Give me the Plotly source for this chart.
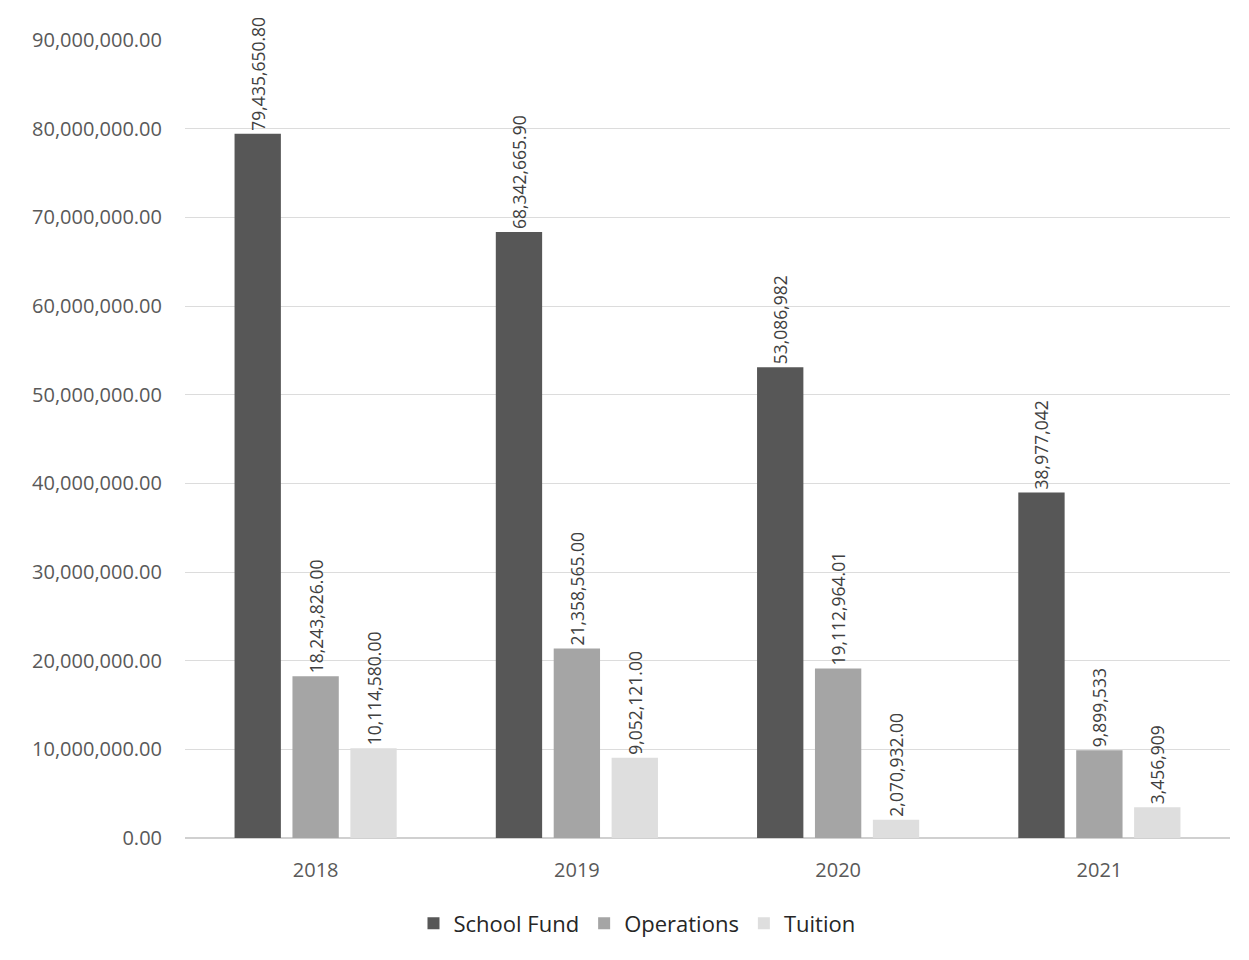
import plotly.graph_objects as go

# Fiscal years on the category axis
years = ["2018", "2019", "2020", "2021"]

# Amounts per funding source
school_fund = [79435650.80, 68342665.90, 53086982, 38977042]
operations = [18243826.00, 21358565.00, 19112964.01, 9899533]
tuition = [10114580.00, 9052121.00, 2070932.00, 3456909]

# Value labels as printed above the bars
school_fund_labels = ["79,435,650.80", "68,342,665.90", "53,086,982", "38,977,042"]
operations_labels = ["18,243,826.00", "21,358,565.00", "19,112,964.01", "9,899,533"]
tuition_labels = ["10,114,580.00", "9,052,121.00", "2,070,932.00", "3,456,909"]

y_ticks = [0, 10e6, 20e6, 30e6, 40e6, 50e6, 60e6, 70e6, 80e6, 90e6]

FONT = "Open Sans, Liberation Sans, sans-serif"
series = [
    ("School Fund", school_fund, school_fund_labels, "#575757"),
    ("Operations", operations, operations_labels, "#a5a5a5"),
    ("Tuition", tuition, tuition_labels, "#dedede"),
]

fig = go.Figure()
for name, vals, labels, color in series:
    fig.add_trace(go.Bar(
        name=name,
        x=years,
        y=vals,
        text=labels,
        texttemplate="%{text}",
        textposition="outside",
        textangle=-90,
        constraintext="none",
        cliponaxis=False,
        textfont=dict(family=FONT, size=17.5, color="#404040"),
        marker=dict(color=color, line=dict(width=0)),
    ))

fig.update_layout(
    width=1249,
    height=960,
    paper_bgcolor="white",
    plot_bgcolor="white",
    barmode="group",
    bargap=0.335,
    bargroupgap=0.2,
    margin=dict(l=185, r=19, t=40, b=122),
    font=dict(family=FONT, size=20, color="#595959"),
    showlegend=True,
    legend=dict(
        orientation="h",
        xref="container",
        yref="container",
        x=0.51,
        xanchor="center",
        y=0.038,
        yanchor="middle",
        font=dict(family=FONT, size=22, color="#262626"),
        itemwidth=30,
        traceorder="normal",
    ),
)

fig.update_yaxes(
    range=[0, 90e6],
    tickvals=y_ticks,
    tickformat=",.2f",
    showgrid=True,
    gridcolor="#dcdcdc",
    gridwidth=1,
    zeroline=True,
    zerolinecolor="#d0d0d0",
    showline=False,
    ticklabelstandoff=22,
    tickfont=dict(family=FONT, size=20, color="#595959"),
)
fig.update_xaxes(
    showgrid=False,
    showline=False,
    ticklabelstandoff=18,
    tickfont=dict(family=FONT, size=20, color="#595959"),
)

fig.write_html("out.html")
